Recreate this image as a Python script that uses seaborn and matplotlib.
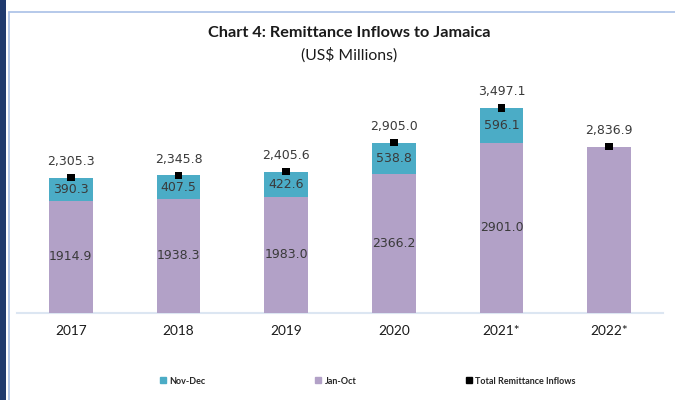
import matplotlib
matplotlib.use("Agg")
import matplotlib.pyplot as plt
from matplotlib.lines import Line2D
from matplotlib.patches import Rectangle
import seaborn as sns
import pandas as pd

years = ["2017", "2018", "2019", "2020", "2021*", "2022*"]
jan_oct = [1914.9, 1938.3, 1983.0, 2366.2, 2901.0, 2836.9]
nov_dec = [390.3, 407.5, 422.6, 538.8, 596.1, 0.0]
jan_oct_labels = ["1914.9", "1938.3", "1983.0", "2366.2", "2901.0", ""]
nov_dec_labels = ["390.3", "407.5", "422.6", "538.8", "596.1", ""]
total = [2305.3, 2345.8, 2405.6, 2905.0, 3497.1, 2836.9]

TEAL = "#4BACC6"
PURPLE = "#B2A1C7"

sns.set_theme(style="white")
plt.rcParams["font.family"] = ["Lato", "DejaVu Sans"]

df = pd.DataFrame({"year": years, "jan_oct": jan_oct, "nov_dec": nov_dec, "total": total})
df["stack_top"] = df["jan_oct"] + df["nov_dec"]

W, H = 675, 400
fig = plt.figure(figsize=(6.75, 4.0), dpi=100)
fig.patch.set_facecolor("white")

ax = fig.add_axes([17 / W, 1 - 312.7 / H, 646 / W, 252.7 / H])
ax.set_facecolor("white")

sns.barplot(data=df, x="year", y="stack_top", color=TEAL, width=0.404,
            saturation=1, ax=ax, zorder=2, linewidth=0)
sns.barplot(data=df, x="year", y="jan_oct", color=PURPLE, width=0.404,
            saturation=1, ax=ax, zorder=3, linewidth=0)
sns.scatterplot(data=df, x="year", y="total", marker="s", color="black",
                s=28, edgecolor="none", ax=ax, zorder=5, legend=False)

lab_font = dict(family=["DejaVu Sans"], fontsize=9, color="#3a3a3a")
for i in range(len(years)):
    ax.annotate(f"{total[i]:,.1f}", (i, total[i]), xytext=(0, 11.5),
                textcoords="offset points", ha="center", va="center", **lab_font)
    if jan_oct_labels[i]:
        ax.text(i, jan_oct[i] / 2, jan_oct_labels[i], ha="center", va="center",
                zorder=6, **lab_font)
    if nov_dec_labels[i]:
        ax.text(i, jan_oct[i] + nov_dec[i] / 2, nov_dec_labels[i], ha="center",
                va="center", zorder=6, **lab_font)

ax.set_xlim(-0.5, 5.5)
ax.set_ylim(0, 4315)
ax.set_xlabel("")
ax.set_ylabel("")
ax.set_yticks([])
for s in ["top", "right", "left"]:
    ax.spines[s].set_visible(False)
ax.spines["bottom"].set_color("#DCE6F2")
ax.spines["bottom"].set_linewidth(1.5)
ax.tick_params(axis="x", length=0, pad=9, labelsize=9.8, labelcolor="#1a1a1a")

fig.text(349 / W, 1 - 33 / H, "Chart 4: Remittance Inflows to Jamaica",
         ha="center", va="center", fontsize=11.7, fontweight="bold", color="#1a1a1a")
fig.text(349 / W, 1 - 55 / H, "(US$ Millions)", ha="center", va="center",
         fontsize=11.3, color="#1a1a1a")

handles = [
    Line2D([], [], marker="s", linestyle="none", color=TEAL, markersize=4),
    Line2D([], [], marker="s", linestyle="none", color=PURPLE, markersize=4),
    Line2D([], [], marker="s", linestyle="none", color="black", markersize=4),
]
fig.legend(handles, ["Nov-Dec", "Jan-Oct", "Total Remittance Inflows"],
           loc="center", bbox_to_anchor=(368 / W, 1 - 381 / H), ncol=3,
           frameon=False, prop=dict(size=6.5, weight="bold"),
           handlelength=0.6, handletextpad=0.4, columnspacing=12.2,
           labelcolor="#262626")

# frame decorations
fig.add_artist(Rectangle((0, 0), 6 / W, 1, transform=fig.transFigure,
                         facecolor="#1F3A6E", edgecolor="none"))
fig.add_artist(Line2D([8.5 / W, 8.5 / W], [0, 1 - 12 / H], transform=fig.transFigure,
                      color="#A9C0E6", linewidth=1.2))
fig.add_artist(Line2D([8.5 / W, 1], [1 - 12 / H, 1 - 12 / H], transform=fig.transFigure,
                      color="#A9C0E6", linewidth=1.2))

fig.savefig("out.png", dpi=100)
